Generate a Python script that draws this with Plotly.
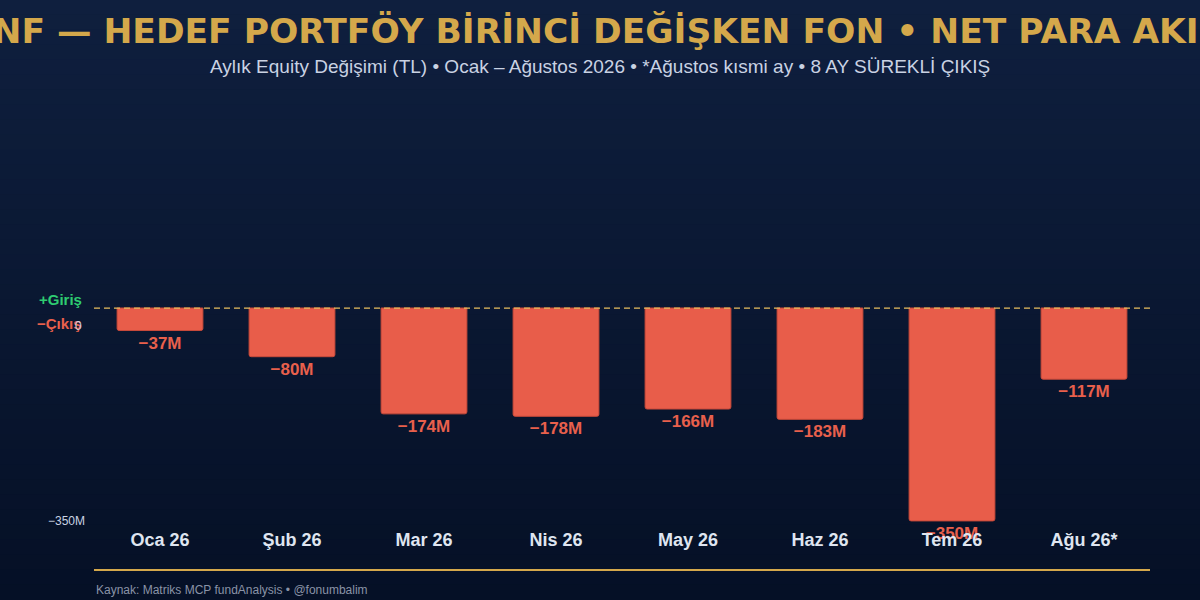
import plotly.graph_objects as go

# 월별 순유출 (백만 TL)
months = ['Oca 26', 'Şub 26', 'Mar 26', 'Nis 26', 'May 26', 'Haz 26', 'Tem 26', 'Ağu 26*']
flows = [-37, -80, -174, -178, -166, -183, -350, -117]
y_ticks = [-350]
y_tick_text = ['−350M']

labels = [f"−{abs(v)}M" for v in flows]

fig = go.Figure()
fig.add_trace(go.Bar(
    x=months,
    y=flows,
    text=labels,
    textposition='outside',
    textfont=dict(family='Liberation Sans', size=17, color='#e8604c', weight='bold'),
    marker=dict(color='#e85d4a', line=dict(color='#c94a3a', width=1), cornerradius=2),
    cliponaxis=False,
    hoverinfo='skip',
))

# 배경 그라데이션 (가로 띠)
top = (15, 31, 62)
bot = (5, 16, 38)
n = 40
shapes = []
y_lo, y_hi = -73 / 427, 1 + 100 / 427
for k in range(n):
    t = k / (n - 1)
    c = tuple(round(top[i] + (bot[i] - top[i]) * t) for i in range(3))
    y1 = y_hi - (y_hi - y_lo) * k / n
    y0 = y_hi - (y_hi - y_lo) * (k + 1) / n
    shapes.append(dict(type='rect', xref='paper', yref='paper',
                       x0=-94 / 1056 - 0.01, x1=1 + 50 / 1056 + 0.01, y0=y0 - 0.002, y1=y1 + 0.002,
                       fillcolor='rgb(%d,%d,%d)' % c, line=dict(width=0), layer='below'))

# 0 기준선
shapes.append(dict(type='line', xref='paper', yref='y', x0=0, x1=1, y0=0, y1=0,
                   line=dict(color='#e6bd5f', width=1.2, dash='6px,4px')))
# 하단 금색 선
shapes.append(dict(type='line', xref='paper', yref='paper', x0=0, x1=1, y0=-43 / 427, y1=-43 / 427,
                   line=dict(color='#d4a84b', width=2)))

annotations = [
    dict(text='Aylık Equity Değişimi (TL) • Ocak – Ağustos 2026 • *Ağustos kısmi ay • 8 AY SÜREKLİ ÇIKIŞ',
         xref='paper', yref='paper', x=0.5 - 22 / 1056, y=1 + 100 / 427, yshift=-67, xanchor='center', yanchor='middle',
         showarrow=False, font=dict(family='Liberation Sans', size=19, color='#c9d2e3')),
    dict(text='+Giriş', xref='paper', yref='y', x=0, y=0, xanchor='right', yanchor='middle',
         xshift=-10, yshift=9, showarrow=False,
         font=dict(family='Liberation Sans', size=15, color='#2ecc71', weight='bold')),
    dict(text='−Çıkış', xref='paper', yref='y', x=0, y=0, xanchor='right', yanchor='middle',
         xshift=-10, yshift=-15, showarrow=False,
         font=dict(family='Liberation Sans', size=15, color='#e8604c', weight='bold')),
    dict(text='0', xref='paper', yref='y', x=0, y=0, xanchor='right', yanchor='middle',
         xshift=-10, yshift=-18, showarrow=False,
         font=dict(family='Liberation Sans', size=12, color='#c9d2e3')),
    dict(text='Kaynak: Matriks MCP fundAnalysis • @fonumbalim', xref='paper', yref='paper',
         x=0, y=-63 / 427, xanchor='left', yanchor='middle', showarrow=False,
         font=dict(family='Liberation Sans', size=12, color='#8a93a6')),
]

fig.update_layout(
    width=1200, height=600,
    margin=dict(l=94, r=50, t=100, b=73),
    paper_bgcolor='#0a1730',
    plot_bgcolor='rgba(0,0,0,0)',
    title=dict(text='HNF — HEDEF PORTFÖY BİRİNCİ DEĞİŞKEN FON • NET PARA AKIŞI',
               x=0.5, xanchor='center', y=1 - 31 / 600, yanchor='middle',
               font=dict(family='DejaVu Sans', size=34.5, color='#d4a84b', weight='bold')),
    showlegend=False,
    bargap=0.35,
    xaxis=dict(showgrid=False, zeroline=False, showline=False, ticks='',
               tickfont=dict(family='Liberation Sans', size=18, color='#dfe5f0', weight='bold')),
    yaxis=dict(range=[-360, 342], showgrid=False, zeroline=False, showline=False,
               tickvals=y_ticks, ticktext=y_tick_text, ticks='', ticklabelstandoff=8,
               tickfont=dict(family='Liberation Sans', size=12, color='#c9d2e3')),
    shapes=shapes,
    annotations=annotations,
)

fig.write_html("out.html", config={'displayModeBar': False},
               post_script="document.body.style.margin='0';")
